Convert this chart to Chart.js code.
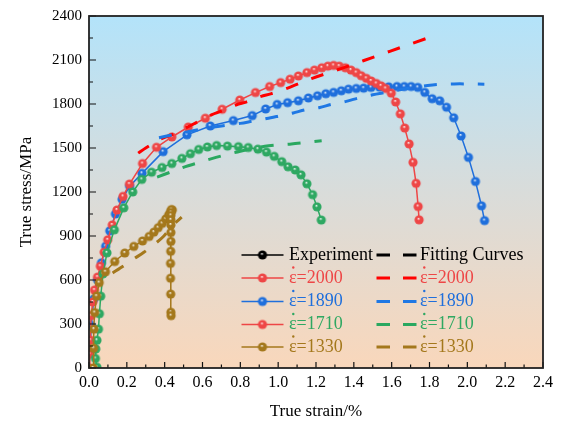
<!DOCTYPE html>
<html>
<head>
<meta charset="utf-8">
<script src="https://cdn.jsdelivr.net/npm/chart.js@4.4.0/dist/chart.umd.min.js"></script>
<style>
body { margin: 0; background: #fff; }
#wrap { width: 561px; height: 425px; }
</style>
</head>
<body>
<div id="wrap"><canvas id="stressChart" width="561" height="425"></canvas></div>
<script>
// [true strain %, true stress MPa]
const exp2000 = [[0,0],[0.004,95],[0.007,190],[0.011,357],[0.02,450],[0.029,531],[0.045,620],[0.06,694],[0.08,790],[0.099,874],[0.123,975],[0.148,1077],[0.18,1170],[0.214,1254],[0.283,1394],[0.357,1505],[0.438,1575],[0.525,1643],[0.615,1703],[0.704,1764],[0.797,1827],[0.88,1878],[0.955,1919],[1.013,1946],[1.063,1969],[1.107,1991],[1.152,2014],[1.192,2031],[1.231,2047],[1.263,2058],[1.293,2063],[1.323,2058],[1.355,2047],[1.385,2031],[1.413,2014],[1.439,1993],[1.466,1975],[1.492,1957],[1.519,1940],[1.544,1924],[1.568,1906],[1.598,1874],[1.621,1814],[1.646,1733],[1.669,1636],[1.692,1528],[1.713,1402],[1.729,1259],[1.74,1101],[1.745,1010]];
const exp1890 = [[0,0],[0.006,120],[0.012,290],[0.025,470],[0.045,600],[0.066,717],[0.088,830],[0.11,935],[0.14,1050],[0.175,1150],[0.215,1240],[0.28,1327],[0.392,1475],[0.518,1590],[0.641,1650],[0.763,1687],[0.863,1721],[0.934,1766],[0.995,1797],[1.05,1809],[1.107,1822],[1.16,1841],[1.208,1856],[1.252,1870],[1.293,1879],[1.334,1890],[1.372,1901],[1.413,1906],[1.452,1908],[1.491,1913],[1.536,1915],[1.584,1917],[1.628,1919],[1.667,1919],[1.703,1919],[1.738,1913],[1.775,1879],[1.814,1836],[1.854,1822],[1.89,1778],[1.928,1706],[1.967,1582],[2.006,1436],[2.043,1272],[2.075,1106],[2.091,1005]];
const exp1710 = [[0.042,5],[0.034,65],[0.036,130],[0.042,189],[0.05,265],[0.055,370],[0.062,490],[0.074,642],[0.095,785],[0.134,942],[0.184,1092],[0.231,1200],[0.279,1286],[0.331,1335],[0.386,1367],[0.438,1394],[0.491,1429],[0.536,1461],[0.58,1490],[0.626,1507],[0.675,1517],[0.732,1513],[0.79,1509],[0.842,1503],[0.893,1492],[0.938,1472],[0.979,1443],[1.019,1407],[1.052,1372],[1.09,1350],[1.121,1317],[1.152,1256],[1.182,1182],[1.205,1099],[1.228,1009]];
const exp1330 = [[0.022,0],[0.024,135],[0.026,265],[0.03,378],[0.04,490],[0.054,582],[0.087,656],[0.136,726],[0.189,784],[0.237,829],[0.283,866],[0.318,897],[0.343,926],[0.366,957],[0.387,986],[0.406,1016],[0.421,1043],[0.431,1065],[0.44,1077],[0.436,1080],[0.434,1060],[0.433,1040],[0.433,1010],[0.433,975],[0.433,924],[0.433,863],[0.432,796],[0.431,713],[0.431,612],[0.432,504],[0.433,380],[0.434,357]];

const fit2000 = [[0.26,1465],[0.3,1500],[0.375,1558],[0.445,1595],[0.55,1662],[0.65,1728],[0.7,1751],[0.78,1795],[0.83,1813],[0.91,1852],[0.96,1869],[1.05,1908],[1.18,1975],[1.32,2036],[1.45,2095],[1.59,2159],[1.79,2250]];
const fit1890 = [[0.37,1570],[0.44,1589],[0.55,1618],[0.67,1645],[0.8,1668],[0.86,1682],[0.94,1701],[1.0,1717],[1.08,1739],[1.14,1759],[1.22,1776],[1.28,1797],[1.36,1818],[1.43,1843],[1.5,1863],[1.57,1879],[1.68,1905],[1.79,1926],[1.85,1934],[1.93,1937],[2.0,1937],[2.09,1935]];
const fit1710 = [[0.36,1302],[0.44,1340],[0.51,1373],[0.57,1396],[0.64,1424],[0.7,1446],[0.8,1478],[0.93,1512],[1.0,1522],[1.07,1528],[1.14,1537],[1.23,1549]];
const fit1330 = [[0.125,648],[0.18,694],[0.237,744],[0.29,789],[0.343,841],[0.392,895],[0.445,975],[0.49,1028]];

const rates = ['2000', '1890', '1710', '1330'];
const expColors = ['#ee4646', '#1f6fdc', '#2ea862', '#a4781c'];
const fitColors = ['#ff0000', '#1f78e4', '#2aa860', '#a4781c'];
const legendMarkColors = ['#ee4646', '#1f6fdc', '#ee4646', '#a4781c']; // as in the source legend
const xTicks = [0, 0.2, 0.4, 0.6, 0.8, 1.0, 1.2, 1.4, 1.6, 1.8, 2.0, 2.2, 2.4];
const yTicks = [0, 300, 600, 900, 1200, 1500, 1800, 2100, 2400];

const serif = "'Liberation Serif', 'DejaVu Serif', serif";

// shiny ball marker
function ball(color, r) {
  const c = document.createElement('canvas');
  const s = Math.ceil(r * 2) + 2;
  c.width = s; c.height = s;
  const g = c.getContext('2d');
  const cx = s / 2, cy = s / 2;
  const grad = g.createRadialGradient(cx - r * 0.15, cy - r * 0.3, 0, cx, cy, r);
  grad.addColorStop(0, '#ffffff');
  grad.addColorStop(0.35, color);
  grad.addColorStop(1, color);
  g.fillStyle = grad;
  g.beginPath(); g.arc(cx, cy, r, 0, Math.PI * 2); g.fill();
  return c;
}

const toPts = a => a.map(p => ({x: p[0], y: p[1]}));
const expSets = [exp2000, exp1890, exp1710, exp1330];
const fitSets = [fit2000, fit1890, fit1710, fit1330];

let datasets = [];
// fits first so they sit on top; then brown, green, red, blue
[3, 2, 1, 0].forEach(i => datasets.push({
  label: 'fit ' + rates[i], data: toPts(fitSets[i]), showLine: true,
  borderColor: fitColors[i], borderWidth: 3, borderDash: [13, 14],
  pointRadius: 0, tension: 0.3, fill: false
}));
[3, 2, 0, 1].forEach(i => datasets.push({
  label: 'exp ' + rates[i], data: toPts(expSets[i]), showLine: true,
  borderColor: expColors[i], borderWidth: 1.5,
  pointStyle: ball(expColors[i], 4.6), pointRadius: 4.6, fill: false
}));

const bgPlugin = {
  id: 'bg',
  beforeDraw(chart) {
    const {ctx, chartArea: a} = chart;
    ctx.save();
    ctx.fillStyle = '#fff';
    ctx.fillRect(0, 0, chart.width, chart.height);
    const g = ctx.createLinearGradient(0, a.top, 0, a.bottom);
    g.addColorStop(0, '#b3e3fa');
    g.addColorStop(0.5, '#d9dcda');
    g.addColorStop(1, '#f9d7bb');
    ctx.fillStyle = g;
    ctx.fillRect(a.left, a.top, a.right - a.left, a.bottom - a.top);
    ctx.restore();
  }
};

const framePlugin = {
  id: 'frame',
  afterDatasetsDraw(chart) {
    const {ctx, chartArea: a, scales: {x, y}} = chart;
    ctx.save();
    ctx.strokeStyle = '#111';
    ctx.lineWidth = 1.2;
    ctx.beginPath();
    xTicks.forEach((v, i) => {
      let px = x.getPixelForValue(v);
      ctx.moveTo(px, a.bottom); ctx.lineTo(px, a.bottom - 6);
      if (i < xTicks.length - 1) {
        px = x.getPixelForValue((v + xTicks[i + 1]) / 2);
        ctx.moveTo(px, a.bottom); ctx.lineTo(px, a.bottom - 3.5);
      }
    });
    yTicks.forEach((v, i) => {
      let py = y.getPixelForValue(v);
      ctx.moveTo(a.left, py); ctx.lineTo(a.left + 7, py);
      if (i < yTicks.length - 1) {
        py = y.getPixelForValue((v + yTicks[i + 1]) / 2);
        ctx.moveTo(a.left, py); ctx.lineTo(a.left + 4, py);
      }
    });
    ctx.stroke();
    ctx.lineWidth = 1.8;
    ctx.strokeStyle = '#222';
    ctx.strokeRect(a.left, a.top, a.right - a.left, a.bottom - a.top);
    ctx.restore();
  },
  afterDraw(chart) {
    const ctx = chart.ctx;
    const rowY = [255, 278, 301.5, 324.5, 347];
    ctx.save();
    ctx.font = '18px ' + serif;
    ctx.textBaseline = 'middle';
    const drawExp = (yy, col) => {
      ctx.strokeStyle = col; ctx.lineWidth = 1.5; ctx.setLineDash([]);
      ctx.beginPath(); ctx.moveTo(241.5, yy); ctx.lineTo(283.5, yy); ctx.stroke();
      const b = ball(col, 4.6);
      ctx.drawImage(b, 262.5 - b.width / 2, yy - b.height / 2);
    };
    const drawFit = (yy, col) => {
      ctx.strokeStyle = col; ctx.lineWidth = 3; ctx.setLineDash([]);
      ctx.beginPath();
      ctx.moveTo(376.5, yy); ctx.lineTo(390, yy);
      ctx.moveTo(403, yy); ctx.lineTo(416.5, yy);
      ctx.stroke();
    };
    // strain rate label: epsilon with a dot over it
    const rateText = (tx, yy, r) => {
      ctx.fillText('\u03B5=' + r, tx, yy);
      const w = ctx.measureText('\u03B5').width;
      ctx.beginPath();
      ctx.arc(tx + w / 2 + 0.5, yy - 10.5, 1.2, 0, Math.PI * 2);
      ctx.fill();
    };
    drawExp(rowY[0], '#000');
    ctx.fillStyle = '#000';
    ctx.fillText('Experiment', 289, rowY[0]);
    drawFit(rowY[0], '#000');
    ctx.fillText('Fitting Curves', 420, rowY[0]);
    rates.forEach((r, i) => {
      const yy = rowY[i + 1];
      drawExp(yy, legendMarkColors[i]);
      drawFit(yy, fitColors[i]);
      ctx.fillStyle = expColors[i];
      rateText(289, yy, r);
      rateText(420, yy, r);
    });
    ctx.restore();
  }
};

new Chart('stressChart', {
  type: 'scatter',
  data: {datasets: datasets},
  options: {
    responsive: false,
    animation: false,
    layout: {padding: {top: 12, right: 18, left: 0, bottom: 0}},
    scales: {
      x: {
        type: 'linear', min: 0, max: 2.4,
        afterBuildTicks: s => { s.ticks = xTicks.map(v => ({value: v})); },
        afterFit: s => { s.height = 57; },
        grid: {display: false, drawTicks: false},
        border: {display: false},
        ticks: {color: '#000', font: {family: serif, size: 16}, padding: 5,
                autoSkip: false, maxRotation: 0, callback: v => v.toFixed(1)},
        title: {display: true, text: 'True strain/%', color: '#000',
                font: {family: serif, size: 17}, padding: {top: 0, bottom: 3}}
      },
      y: {
        type: 'linear', min: 0, max: 2400,
        afterBuildTicks: s => { s.ticks = yTicks.map(v => ({value: v})); },
        afterFit: s => { s.width = 89; },
        grid: {display: false, drawTicks: false},
        border: {display: false},
        ticks: {color: '#000', font: {family: serif, size: 15}, padding: 7,
                autoSkip: false, callback: v => String(v)},
        title: {display: true, text: 'True stress/MPa', color: '#000',
                font: {family: serif, size: 17}, padding: {top: 16, bottom: 0}}
      }
    },
    plugins: {legend: {display: false}, tooltip: {enabled: false}}
  },
  plugins: [bgPlugin, framePlugin]
});
</script>
</body>
</html>
